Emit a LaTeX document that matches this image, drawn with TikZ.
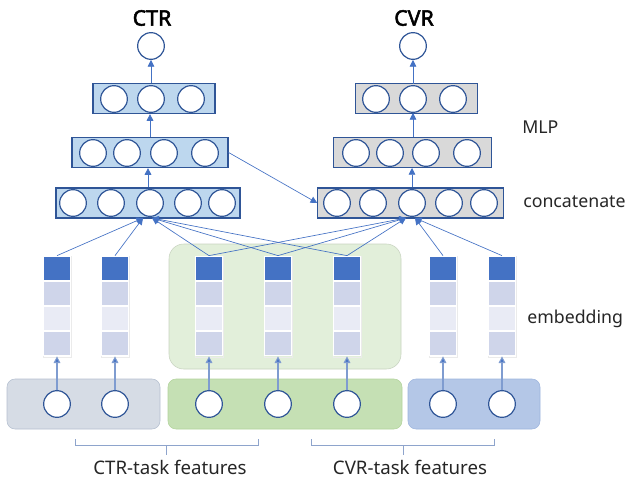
\documentclass[tikz,border=0pt]{standalone}
\usepackage{fontspec}
\setmainfont{Noto Sans}
\newfontfamily\headfont{Noto Sans}[FakeBold=2.5]
\usetikzlibrary{arrows.meta}
\definecolor{lineblue}{HTML}{4472C4}
\definecolor{edgeblue}{HTML}{2F5597}
\definecolor{ctrfill}{HTML}{BDD7EE}
\definecolor{cvrfill}{HTML}{D9D9D9}
\definecolor{embdark}{HTML}{4472C4}
\definecolor{embmid}{HTML}{CFD5EA}
\definecolor{emblight}{HTML}{E9EBF5}
\definecolor{sharefill}{HTML}{E2EFDA}
\definecolor{shareline}{HTML}{C8D3C0}
\definecolor{ctrin}{HTML}{D6DCE5}
\definecolor{ctrinline}{HTML}{B4BFCF}
\definecolor{sharein}{HTML}{C5E0B4}
\definecolor{shareinline}{HTML}{B2D39C}
\definecolor{cvrin}{HTML}{B4C7E7}
\definecolor{cvrinline}{HTML}{9DB5DE}
\definecolor{brace}{HTML}{8EA4CC}
\definecolor{feedline}{HTML}{7F9CD0}
\definecolor{txt}{HTML}{262626}
\tikzset{
  unit/.style={draw=edgeblue, fill=white, circle, line width=0.9pt, minimum size=20pt, inner sep=0pt},
  layer/.style={draw=edgeblue, line width=0.9pt, minimum height=22.5pt, inner sep=0pt},
  cell/.style={draw=white, line width=0.8pt, minimum width=20pt, minimum height=18.5pt, inner sep=0pt},
  link/.style={draw=lineblue, line width=0.5pt, -{Triangle[length=5pt,width=5pt]}},
  feed/.style={draw=feedline, line width=0.8pt, -{Triangle[length=5pt,width=5pt,fill=lineblue]}},
  note/.style={text=txt, font=\fontsize{14}{16}\selectfont},
  side/.style={text=txt, font=\fontsize{13.3}{16}\selectfont, anchor=west, inner sep=0pt},
  head/.style={font=\fontsize{16}{18}\selectfont\headfont},
}
\begin{document}
\begin{tikzpicture}[x=0.75pt,y=-0.75pt]
\useasboundingbox (0,0) rectangle (631,481);

% shared embedding area and input groups
\path[fill=sharefill, draw=shareline, rounded corners=11pt] (169,244) rectangle (401,369);
\path[fill=ctrin, draw=ctrinline, rounded corners=6pt] (7,379) rectangle (160,429);
\path[fill=sharein, draw=shareinline, rounded corners=6pt] (168,379) rectangle (402,429);
\path[fill=cvrin, draw=cvrinline, rounded corners=6pt] (408,379) rectangle (540,429);

% titles and side labels
\node[head] (tctr) at (152,18) {CTR};
\node[head] (tcvr) at (414,18) {CVR};
\node[side] (lmlp) at (522,127) {MLP};
\node[side] (lcat) at (523,202) {concatenate};
\node[side] (lemb) at (527,319) {embedding};

% CTR tower
\node[unit] (octr) at (151,46) {};
\node[layer, fill=ctrfill, minimum width=91.5pt] (h2ctr) at (154,98.5) {};
\node[unit] at (114,99) {};
\node[unit] at (151,99) {};
\node[unit] at (191,99) {};
\node[layer, fill=ctrfill, minimum width=117pt] (h1ctr) at (150,152.5) {};
\node[unit] at (93,153) {};
\node[unit] at (127,153) {};
\node[unit] at (164,153) {};
\node[unit] at (205,153) {};
\node[layer, fill=ctrfill, minimum width=138pt] (cctr) at (148,203) {};
\node[unit] at (73,203) {};
\node[unit] at (111,203) {};
\node[unit] at (150,203) {};
\node[unit] at (188,203) {};
\node[unit] at (222,203) {};

% CVR tower
\node[unit] (ocvr) at (413,46) {};
\node[layer, fill=cvrfill, minimum width=91pt] (h2cvr) at (416.5,98.5) {};
\node[unit] at (376,99) {};
\node[unit] at (413,99) {};
\node[unit] at (453,99) {};
\node[layer, fill=cvrfill, minimum width=118pt] (h1cvr) at (412.5,152.5) {};
\node[unit] at (356,153) {};
\node[unit] at (390,153) {};
\node[unit] at (426,153) {};
\node[unit] at (467,153) {};
\node[layer, fill=cvrfill, minimum width=139pt] (ccvr) at (410.5,203) {};
\node[unit] at (337,203) {};
\node[unit] at (373,203) {};
\node[unit] at (412,203) {};
\node[unit] at (449,203) {};
\node[unit] at (484,203) {};

\coordinate (actr1) at (143,218);
\coordinate (actr2) at (152,218);
\coordinate (acvr1) at (406,218);
\coordinate (acvr2) at (415,218);

% embedding columns
\foreach \n/\x in {1/57,2/115,3/209,4/278,5/347,6/443,7/502}{
  \path[draw=black!8] (\x-14,256) rectangle (\x+14,357);
  \node[cell, fill=embdark] (e\n) at (\x,268.5) {};
  \node[cell, fill=embmid] at (\x,293.5) {};
  \node[cell, fill=emblight] at (\x,318.5) {};
  \node[cell, fill=embmid] (f\n) at (\x,343.5) {};
}

% input features
\node[unit] (i1) at (57,404) {};
\node[unit] (i2) at (115,404) {};
\node[unit] (i3) at (209,404) {};
\node[unit] (i4) at (278,404) {};
\node[unit] (i5) at (347,404) {};
\node[unit] (i6) at (443,404) {};
\node[unit] (i7) at (502,404) {};

\path[feed] (i1) -- (f1.south);
\path[feed] (i2) -- (f2.south);
\path[feed] (i3) -- (f3.south);
\path[feed] (i4) -- (f4.south);
\path[feed] (i5) -- (f5.south);
\path[feed] (i6) -- (f6.south);
\path[feed] (i7) -- (f7.south);

\path[link] (e1.north) -- (actr1);
\path[link] (e2.north) -- (actr1);
\path[link] (e3.north) -- (actr2);
\path[link] (e4.north) -- (actr2);
\path[link] (e5.north) -- (actr2);
\path[link] (e3.north) -- (acvr1);
\path[link] (e4.north) -- (acvr1);
\path[link] (e5.north) -- (acvr1);
\path[link] (e6.north) -- (acvr2);
\path[link] (e7.north) -- (acvr2);

\path[link] (cctr.north) -- (cctr.north |- h1ctr.south);
\path[link] (h1ctr.north) -- (h1ctr.north |- h2ctr.south);
\path[link] (octr.south |- h2ctr.north) -- (octr.south);
\path[link] (ccvr.north -| 412,0) -- (412,168);
\path[link] (h1cvr.north -| 413,0) -- (413,113);
\path[link] (413,84) -- (ocvr.south);
\path[link] (h1ctr.east) -- (ccvr.west);

% feature groups
\coordinate (bl) at (166,455);
\coordinate (br) at (403,455);
\path[draw=brace, line width=0.7pt] (75,439) -- (75,445) -- (258,445) -- (258,439);
\path[draw=brace, line width=0.7pt] (166,445) -- (bl);
\path[draw=brace, line width=0.7pt] (311,439) -- (311,445) -- (494,445) -- (494,439);
\path[draw=brace, line width=0.7pt] (403,445) -- (br);
\node[note] (gctr) at (170,467) {CTR-task features};
\node[note] (gcvr) at (410,467) {CVR-task features};
\end{tikzpicture}
\end{document}
